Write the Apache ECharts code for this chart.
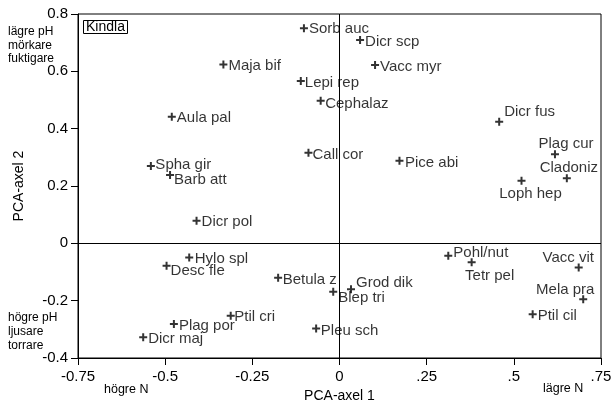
<!DOCTYPE html>
<html>
<head>
<meta charset="utf-8">
<script src="https://cdn.jsdelivr.net/npm/echarts@6/dist/echarts.min.js"></script>
<style>
  html, body { margin: 0; padding: 0; background: #fff; }
  #chart { width: 615px; height: 401px; }
</style>
</head>
<body>
<div id="chart"></div>
<script>
// Species scores on the first two PCA axes (Kindla)
const species = [
  'Sorb auc', 'Dicr scp', 'Vacc myr', 'Maja bif', 'Lepi rep', 'Cephalaz',
  'Aula pal', 'Dicr fus', 'Call cor', 'Plag cur', 'Pice abi', 'Spha gir',
  'Barb att', 'Cladoniz', 'Loph hep', 'Dicr pol', 'Hylo spl', 'Pohl/nut',
  'Tetr pel', 'Desc fle', 'Vacc vit', 'Betula z', 'Grod dik', 'Blep tri',
  'Mela pra', 'Ptil cil', 'Ptil cri', 'Plag por', 'Pleu sch', 'Dicr maj'
];
const axis1 = [
  -0.102, 0.059, 0.102, -0.333, -0.111, -0.054,
  -0.481, 0.458, -0.089, 0.618, 0.172, -0.541,
  -0.486, 0.652, 0.522, -0.410, -0.431, 0.312,
  0.379, -0.496, 0.686, -0.176, 0.033, -0.018,
  0.699, 0.554, -0.312, -0.475, -0.067, -0.563
];
const axis2 = [
  0.750, 0.709, 0.622, 0.624, 0.566, 0.497,
  0.442, 0.424, 0.316, 0.311, 0.288, 0.270,
  0.238, 0.227, 0.218, 0.079, -0.049, -0.043,
  -0.066, -0.078, -0.084, -0.120, -0.160, -0.169,
  -0.195, -0.247, -0.253, -0.281, -0.297, -0.328
];
const xTickLabels = ['-0.75', '-0.5', '-0.25', '0', '.25', '.5', '.75'];
const yTickLabels = ['-0.4', '-0.2', '0', '0.2', '0.4', '0.6', '0.8'];

// Label placement around each marker: [align, dx, dy]
const defaultPlace = ['left', 5, 1.5];
const labelPlace = {
  'Sorb auc': ['left', 5, 0.5],
  'Dicr scp': ['left', 5, 2],
  'Lepi rep': ['left', 4, 2],
  'Cephalaz': ['left', 4.5, 2.5],
  'Call cor': ['left', 4, 2],
  'Pice abi': ['left', 5.5, 2.5],
  'Spha gir': ['left', 4.5, -1],
  'Barb att': ['left', 4, 5],
  'Dicr fus': ['left', 5, -10],
  'Plag cur': ['center', 11, -10],
  'Cladoniz': ['center', 2, -10],
  'Loph hep': ['center', 9, 13],
  'Hylo spl': ['left', 5.5, 1],
  'Desc fle': ['left', 4, 5],
  'Betula z': ['left', 4.5, 2.5],
  'Pohl/nut': ['left', 5, -2.5],
  'Tetr pel': ['center', 18, 13.5],
  'Vacc vit': ['center', -10.5, -9.5],
  'Mela pra': ['center', -18, -9.5],
  'Grod dik': ['left', 5, -6],
  'Blep tri': ['left', 5, 6.5],
  'Ptil cri': ['left', 3.5, 1],
  'Pleu sch': ['left', 4.7, 2.7]
};

const FONT = "'Liberation Sans', Arial, sans-serif";
const plus = 'path://M3,0h2v3h3v2h-3v3h-2v-3h-3v-2h3z';

const points = species.map((name, i) => {
  const p = labelPlace[name] || defaultPlace;
  return {
    name: name,
    value: [axis1[i], axis2[i]],
    label: {
      show: true,
      formatter: name,
      position: 'inside',
      align: p[0],
      verticalAlign: 'middle',
      offset: [p[1], p[2]]
    }
  };
});

const chart = echarts.init(document.getElementById('chart'), null, { renderer: 'canvas' });
chart.setOption({
  animation: false,
  backgroundColor: '#fff',
  textStyle: { fontFamily: FONT, color: '#000' },
  title: {
    text: 'Kindla',
    left: 83,
    top: 20,
    padding: [0, 3],
    borderWidth: 1,
    borderColor: '#000',
    textStyle: { fontFamily: FONT, fontSize: 14, fontWeight: 'normal', color: '#000', lineHeight: 14 }
  },
  grid: {
    left: 78, right: 14, top: 14, bottom: 43,
    outerBoundsMode: 'none',
    containLabel: false,
    show: true, borderColor: '#000', borderWidth: 1, backgroundColor: 'transparent'
  },
  xAxis: {
    type: 'value',
    min: -0.75, max: 0.75, interval: 0.25,
    name: 'PCA-axel 1',
    nameLocation: 'middle',
    nameGap: 27,
    nameTextStyle: { fontFamily: FONT, fontSize: 14, color: '#000' },
    axisLine: { onZero: false, lineStyle: { color: '#000', width: 1 } },
    axisTick: { show: true, length: 7, lineStyle: { color: '#000' } },
    axisLabel: {
      fontFamily: FONT, fontSize: 15, color: '#000', margin: 11,
      formatter: (v, idx) => xTickLabels[idx]
    },
    splitLine: { show: false }
  },
  yAxis: {
    type: 'value',
    min: -0.4, max: 0.8, interval: 0.2,
    name: 'PCA-axel 2',
    nameLocation: 'middle',
    nameGap: 52,
    nameTextStyle: { fontFamily: FONT, fontSize: 14, color: '#000' },
    axisLine: { onZero: false, lineStyle: { color: '#000', width: 1 } },
    axisTick: { show: true, length: 7, lineStyle: { color: '#000' } },
    axisLabel: {
      fontFamily: FONT, fontSize: 15, color: '#000', margin: 10,
      formatter: (v, idx) => yTickLabels[idx]
    },
    splitLine: { show: false }
  },
  series: [{
    type: 'scatter',
    symbol: plus,
    symbolSize: 8,
    itemStyle: { color: '#000' },
    label: { fontFamily: FONT, fontSize: 15, color: '#000' },
    emphasis: { disabled: true },
    data: points,
    markLine: {
      silent: true,
      symbol: 'none',
      label: { show: false },
      lineStyle: { color: '#000', width: 1, type: 'solid' },
      data: [{ xAxis: 0 }, { yAxis: 0 }]
    }
  }],
  graphic: [
    {
      type: 'text', left: 8, top: 25,
      style: { text: 'lägre pH\nmörkare\nfuktigare', font: '12px ' + FONT, fill: '#000', lineHeight: 13.5 }
    },
    {
      type: 'text', left: 8, top: 311,
      style: { text: 'högre pH\nljusare\ntorrare', font: '12px ' + FONT, fill: '#000', lineHeight: 14 }
    },
    {
      type: 'text', left: 104, top: 383,
      style: { text: 'högre N', font: '12.5px ' + FONT, fill: '#000' }
    },
    {
      type: 'text', left: 543, top: 382,
      style: { text: 'lägre N', font: '12.5px ' + FONT, fill: '#000' }
    }
  ]
});
</script>
</body>
</html>
